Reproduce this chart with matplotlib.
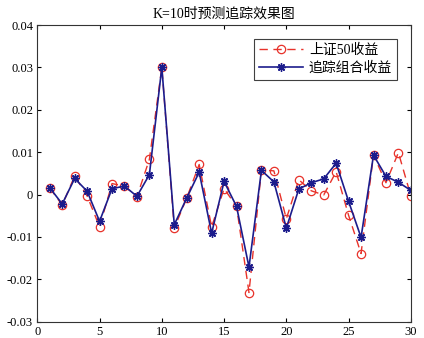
import matplotlib
matplotlib.use("Agg")
import matplotlib.pyplot as plt

plt.rcParams['font.family'] = ['Liberation Serif', 'Noto Sans CJK SC']
plt.rcParams['axes.unicode_minus'] = False

days = list(range(1, 31))
sz50 = [0.0016, -0.0025, 0.0044, -0.0003, -0.0076, 0.0026, 0.0020, -0.0005, 0.0083, 0.0300,
        -0.0079, -0.0008, 0.0071, -0.0076, 0.0014, -0.0028, -0.0231, 0.0058, 0.0056, -0.0057,
        0.0035, 0.0009, -0.0001, 0.0054, -0.0049, -0.0139, 0.0093, 0.0028, 0.0099, -0.0003]
track = [0.0016, -0.0022, 0.0038, 0.0008, -0.0063, 0.0014, 0.0020, -0.0004, 0.0047, 0.0300,
         -0.0071, -0.0008, 0.0053, -0.0091, 0.0031, -0.0028, -0.0171, 0.0057, 0.0030, -0.0079,
         0.0013, 0.0028, 0.0037, 0.0074, -0.0016, -0.0101, 0.0093, 0.0043, 0.0029, 0.0010]

fig = plt.figure(figsize=(4.24, 3.38), dpi=100)
ax = fig.add_axes([0.088, 0.048, 0.881, 0.878])

ax.plot(days, sz50, color='#e8322a', linestyle=(0, (6, 4)), linewidth=1.0,
        marker='o', markersize=6, markerfacecolor='none', markeredgewidth=0.9,
        label='上证50收益')
ax.plot(days, track, color='#1c1c8c', linestyle='-', linewidth=1.2,
        marker=(8, 2, 0), markersize=6, markeredgewidth=1.0,
        label='追踪组合收益')

ax.set_xlim(0, 30)
ax.set_ylim(-0.03, 0.04)
ax.set_xticks(range(0, 31, 5))
ax.set_yticks([-0.03, -0.02, -0.01, 0, 0.01, 0.02, 0.03, 0.04])
ax.set_yticklabels(['-0.03', '-0.02', '-0.01', '0', '0.01', '0.02', '0.03', '0.04'])
ax.tick_params(direction='in', top=True, right=True, labelsize=9, length=3, pad=3)
for s in ax.spines.values():
    s.set_linewidth(0.8)
    s.set_color('#333333')

ax.set_title('K=10时预测追踪效果图', fontsize=10, pad=5)
leg = ax.legend(loc='upper right', fontsize=10, fancybox=False, framealpha=1,
                edgecolor='#404040', handlelength=3.2, handletextpad=0.4,
                borderaxespad=1.0, borderpad=0.35, labelspacing=0.3)
leg.get_frame().set_linewidth(0.8)

fig.savefig('out.png', dpi=100)
